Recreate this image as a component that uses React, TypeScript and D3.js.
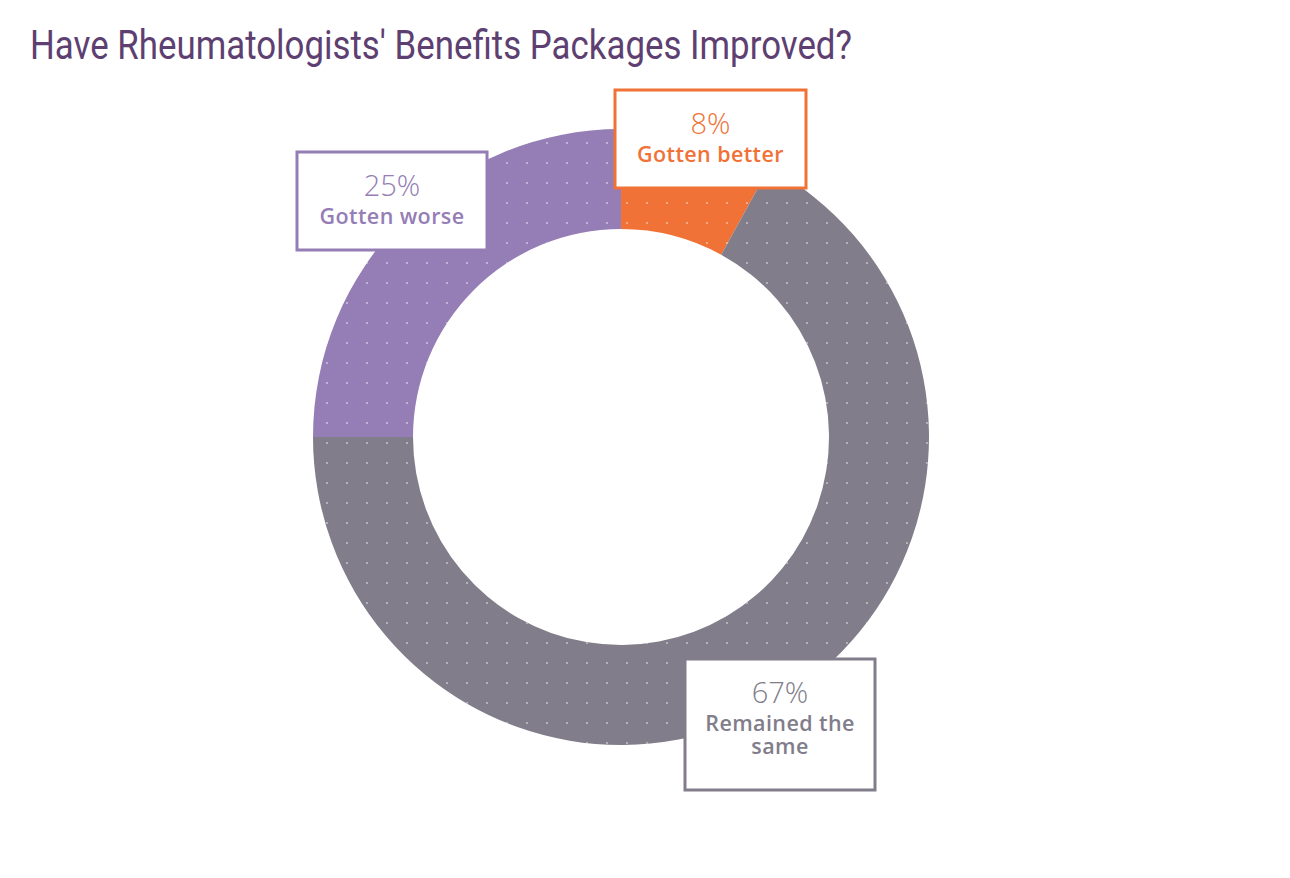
import React, { useRef, useEffect } from "react";
import * as d3 from "d3";

const categories = ["Gotten better", "Remained the same", "Gotten worse"];
const values = [8, 67, 25];
const colors = ["#F07236", "#817D8A", "#957DB5"];
// label box layout: [x, y, w, h]
const boxes = [
  [615, 90, 191, 98],
  [685, 659, 190, 131],
  [297, 152, 190, 98],
];
const labelLines = [["Gotten better"], ["Remained the", "same"], ["Gotten worse"]];

export default function App() {
  const ref = useRef<SVGSVGElement>(null);

  useEffect(() => {
    const svg = d3.select(ref.current);
    svg.selectAll("*").remove();

    const cx = 621;
    const cy = 437;
    const outer = 308;
    const inner = 208;

    const defs = svg.append("defs");
    const pat = defs
      .append("pattern")
      .attr("id", "dots")
      .attr("patternUnits", "userSpaceOnUse")
      .attr("width", 20)
      .attr("height", 20);
    pat.append("circle").attr("cx", 6).attr("cy", 6).attr("r", 1.1).attr("fill", "#fff").attr("opacity", 0.5);

    svg.append("text")
      .attr("x", 30)
      .attr("y", 59)
      .attr("font-family", "Roboto, sans-serif")
      .attr("font-size", 41)
      .attr("fill", "#5D4071")
      .attr("textLength", 822)
      .attr("lengthAdjust", "spacingAndGlyphs")
      .text("Have Rheumatologists' Benefits Packages Improved?");

    const pie = d3.pie<number>().sort(null).value((d) => d);
    const arc = d3.arc<d3.PieArcDatum<number>>().innerRadius(inner).outerRadius(outer);
    const arcs = pie(values);

    const g = svg.append("g").attr("transform", `translate(${cx},${cy})`);
    g.selectAll("path.slice")
      .data(arcs)
      .enter()
      .append("path")
      .attr("class", "slice")
      .attr("d", arc)
      .attr("fill", (d, i) => colors[i]);
    g.selectAll("path.dots")
      .data(arcs)
      .enter()
      .append("path")
      .attr("class", "dots")
      .attr("d", arc)
      .attr("fill", "url(#dots)");

    categories.forEach((c, i) => {
      const [x, y, w, h] = boxes[i];
      const lg = svg.append("g");
      lg.append("rect")
        .attr("x", x)
        .attr("y", y)
        .attr("width", w)
        .attr("height", h)
        .attr("fill", "#fff")
        .attr("stroke", colors[i])
        .attr("stroke-width", 3);
      const t = lg.append("text")
        .attr("x", x + w / 2)
        .attr("y", y + 44)
        .attr("text-anchor", "middle")
        .attr("font-family", "'Open Sans', sans-serif")
        .attr("fill", colors[i]);
      t.append("tspan")
        .attr("x", x + w / 2)
        .attr("font-weight", 300)
        .attr("font-size", 29)
        .text(values[i] + "%");
      labelLines[i].forEach((line, j) => {
        t.append("tspan")
          .attr("x", x + w / 2)
          .attr("dy", j === 0 ? 28 : 23)
          .attr("font-weight", 600)
          .attr("font-size", 21.5)
          .attr("letter-spacing", 0.4)
          .text(line);
      });
    });
  }, []);

  return (
    <div>
      <svg ref={ref} width={1274} height={862} style={{ display: "block", margin: "-8px" }}></svg>
    </div>
  );
}
